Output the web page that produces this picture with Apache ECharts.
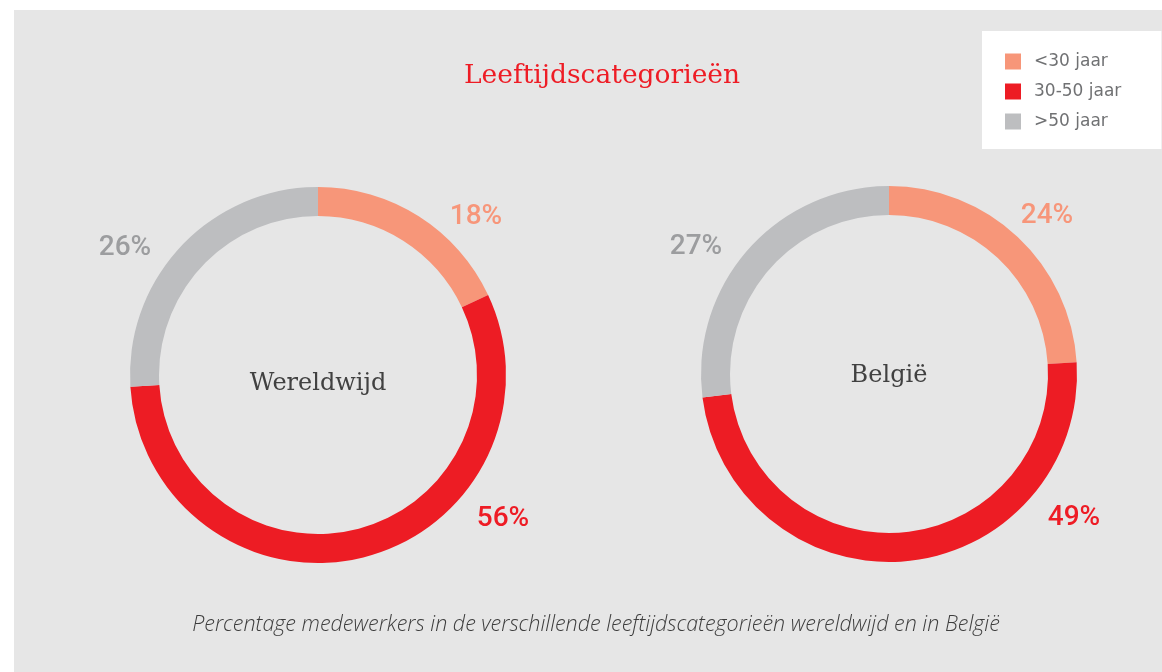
<!DOCTYPE html>
<html>
<head>
<meta charset="utf-8">
<script src="https://cdn.jsdelivr.net/npm/echarts@6/dist/echarts.min.js"></script>
<style>
  html, body { margin: 0; padding: 0; background: #fff; }
  #chart { width: 1162px; height: 672px; }
</style>
</head>
<body>
<div id="chart"></div>
<script>
// data
var categories = ['<30 jaar', '30-50 jaar', '>50 jaar'];
var wereldwijd = [18, 56, 26];
var belgie = [24, 49, 27];
var regions = ['Wereldwijd', 'België'];

// style
var ringColors = ['#f79679', '#ed1c24', '#bdbec0'];
var labelColors = ['#f7967a', '#ee1c25', '#9c9d9f'];
var centers = [[318, 375], [889, 374]];
var labelOffsets = [[158, -158], [185, 144], [-193, -127]];

function buildData(values) {
    return values.map(function (v, i) {
        return {
            name: categories[i],
            value: v,
            itemStyle: { color: ringColors[i] },
            label: { color: labelColors[i] }
        };
    });
}

function draw_leeftijd() {
    var myChart = echarts.init(document.getElementById('chart'));
    var pieBase = function (idx, values) {
        return {
            name: regions[idx],
            type: 'pie',
            center: centers[idx],
            radius: [159, 188],
            startAngle: 90,
            clockwise: true,
            avoidLabelOverlap: false,
            silent: true,
            label: {
                show: true,
                position: 'outside',
                formatter: '{c}%',
                fontFamily: 'Roboto',
                fontWeight: 500,
                fontSize: 28
            },
            labelLine: { show: false },
            labelLayout: function (params) {
                var off = labelOffsets[params.dataIndex];
                var c = centers[params.seriesIndex];
                return {
                    x: c[0] + off[0],
                    y: c[1] + off[1],
                    align: 'center',
                    verticalAlign: 'middle'
                };
            },
            data: buildData(values)
        };
    };
    var option = {
        animation: false,
        backgroundColor: '#fff',
        title: [{
            text: 'Leeftijdscategorieën',
            left: 597,
            top: 58,
            textAlign: 'center',
            textStyle: {
                fontFamily: 'DejaVu Serif',
                fontWeight: 'normal',
                fontSize: 26.5,
                color: '#ee1c25'
            }
        }, {
            text: 'Percentage medewerkers in de verschillende leeftijdscategorieën wereldwijd en in België',
            left: 591,
            top: 609,
            textAlign: 'center',
            textStyle: {
                fontFamily: 'Open Sans',
                fontStyle: 'italic',
                fontWeight: 300,
                fontSize: 21.5,
                color: '#3d3d3d'
            }
        }],
        legend: {
            orient: 'vertical',
            left: 982,
            top: 31,
            padding: [22, 40, 19, 23],
            backgroundColor: '#fff',
            itemWidth: 16,
            itemHeight: 16,
            itemGap: 13,
            icon: 'rect',
            data: categories,
            textStyle: {
                fontFamily: 'DejaVu Sans',
                fontSize: 17,
                lineHeight: 16,
                color: '#707173',
                padding: [0, 0, 0, 8]
            }
        },
        graphic: [{
            type: 'rect',
            z: -10,
            shape: { x: 14, y: 10, width: 1148, height: 662 },
            style: { fill: '#e6e6e6' }
        }, {
            type: 'text',
            x: centers[0][0],
            y: 384,
            style: {
                text: regions[0],
                align: 'center',
                verticalAlign: 'middle',
                font: '24px "DejaVu Serif"',
                fill: '#414141'
            }
        }, {
            type: 'text',
            x: centers[1][0],
            y: 376,
            style: {
                text: regions[1],
                align: 'center',
                verticalAlign: 'middle',
                font: '24px "DejaVu Serif"',
                fill: '#414141'
            }
        }],
        series: [pieBase(0, wereldwijd), pieBase(1, belgie)]
    };
    myChart.setOption(option);
}

draw_leeftijd();
</script>
</body>
</html>
